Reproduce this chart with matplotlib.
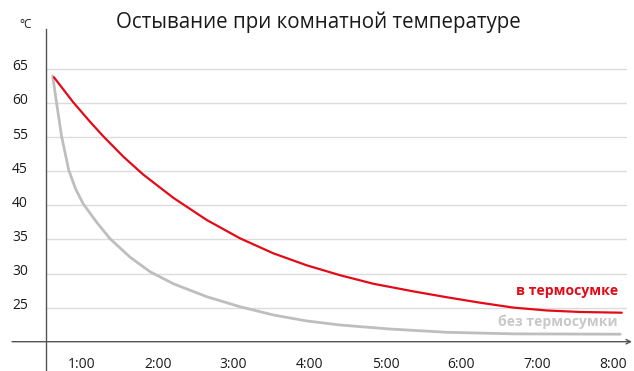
import matplotlib
matplotlib.use("Agg")
import matplotlib.pyplot as plt
from matplotlib.transforms import ScaledTranslation

plt.rcParams['font.family'] = ['Open Sans', 'DejaVu Sans']

# ---- data (y values are in axis-position units; tick labels as printed) ----
title = "Остывание при комнатной температуре"
unit_label = "°C"
x_ticks = [1, 2, 3, 4, 5, 6, 7, 8]
x_tick_labels = ["1:00", "2:00", "3:00", "4:00", "5:00", "6:00", "7:00", "8:00"]
y_ticks = [30, 35, 40, 45, 50, 55, 60, 65]
y_tick_labels = ["25", "30", "35", "40", "45", "55", "60", "65"]

hours_red = [0.635, 0.889, 1.109, 1.284, 1.548, 1.811, 2.206, 2.646, 3.084, 3.523,
             3.963, 4.401, 4.839, 5.366, 5.806, 6.244, 6.683, 7.122, 7.561, 8.110]
temp_red = [63.77, 60.10, 57.26, 55.12, 52.13, 49.50, 46.10, 42.85, 40.16, 37.96,
            36.20, 34.75, 33.50, 32.38, 31.52, 30.72, 30.00, 29.58, 29.36, 29.25]
label_red = "в термосумке"

hours_gray = [0.618, 0.668, 0.735, 0.830, 0.920, 1.021, 1.198, 1.373, 1.636, 1.900,
              2.206, 2.646, 3.084, 3.523, 3.963, 4.401, 5.059, 5.806, 6.683, 8.090]
temp_gray = [63.96, 60.10, 55.12, 50.13, 47.40, 45.20, 42.50, 40.10, 37.40, 35.26,
             33.50, 31.60, 30.13, 28.92, 28.04, 27.45, 26.86, 26.38, 26.15, 26.10]
label_gray = "без термосумки"

RED = "#e30b17"
GRAY_LINE = "#bebebe"
GRAY_TEXT = "#c8c8c8"
GRID = "#dcdcdc"
AXIS = "#555555"
TEXT = "#1a1a1a"

W, H, DPI = 634, 371, 100
fig = plt.figure(figsize=(W / DPI, H / DPI), dpi=DPI)
ax_left, ax_right, ax_bottom, ax_top = 46, 627, 341.7, 29.3
ax = fig.add_axes([ax_left / W, (H - ax_bottom) / H,
                   (ax_right - ax_left) / W, (ax_bottom - ax_top) / H])

px_per_hour = 75.95
ax.set_xlim(1 + (ax_left - 81.7) / px_per_hour, 1 + (ax_right - 81.7) / px_per_hour)
ax.set_ylim(25, 25 + (ax_bottom - ax_top) / 6.82)

for s in ax.spines.values():
    s.set_visible(False)

ax.set_yticks(y_ticks)
ax.set_yticklabels(y_tick_labels)
ax.set_xticks(x_ticks)
ax.set_xticklabels(x_tick_labels)
ax.tick_params(axis='both', length=0, labelsize=10, labelcolor=TEXT)
ax.tick_params(axis='y', pad=24.5)
ax.tick_params(axis='x', pad=11)
for lab in ax.get_yticklabels():
    lab.set_horizontalalignment('left')
    lab.set_transform(lab.get_transform() + ScaledTranslation(0, 0.04, fig.dpi_scale_trans))

ax.grid(axis='y', color=GRID, lw=1)
ax.grid(axis='x', visible=False)
ax.set_axisbelow(True)

ax.plot(hours_gray, temp_gray, color=GRAY_LINE, lw=2.0, solid_capstyle='round', solid_joinstyle='round')
ax.plot(hours_red, temp_red, color=RED, lw=1.6, solid_capstyle='round', solid_joinstyle='round')

# axes lines
ax.axvline(ax.get_xlim()[0], ymin=-(H - ax_bottom) / (ax_bottom - ax_top), ymax=1,
           color=AXIS, lw=1, clip_on=False)
ax.annotate('', xy=((632 - ax_left) / (ax_right - ax_left), 0),
            xytext=((12 - ax_left) / (ax_right - ax_left), 0),
            xycoords='axes fraction', textcoords='axes fraction',
            arrowprops=dict(arrowstyle='->', color=AXIS, lw=1, shrinkA=0, shrinkB=0,
                            mutation_scale=8))

ax.text(8.057, 32.48, label_red, color=RED, fontsize=10.1, fontweight='bold',
        ha='right', va='center')
ax.text(8.057, 27.93, label_gray, color=GRAY_TEXT, fontsize=10.1, fontweight='bold',
        ha='right', va='center')

fig.text(318 / W, 1 - 22.5 / H, title, fontsize=14.8, color=TEXT, ha='center', va='center')
fig.text(25.5 / W, 1 - 24.5 / H, unit_label, fontsize=8.5, color=TEXT, ha='center', va='center')

fig.savefig("out.png", dpi=DPI)
